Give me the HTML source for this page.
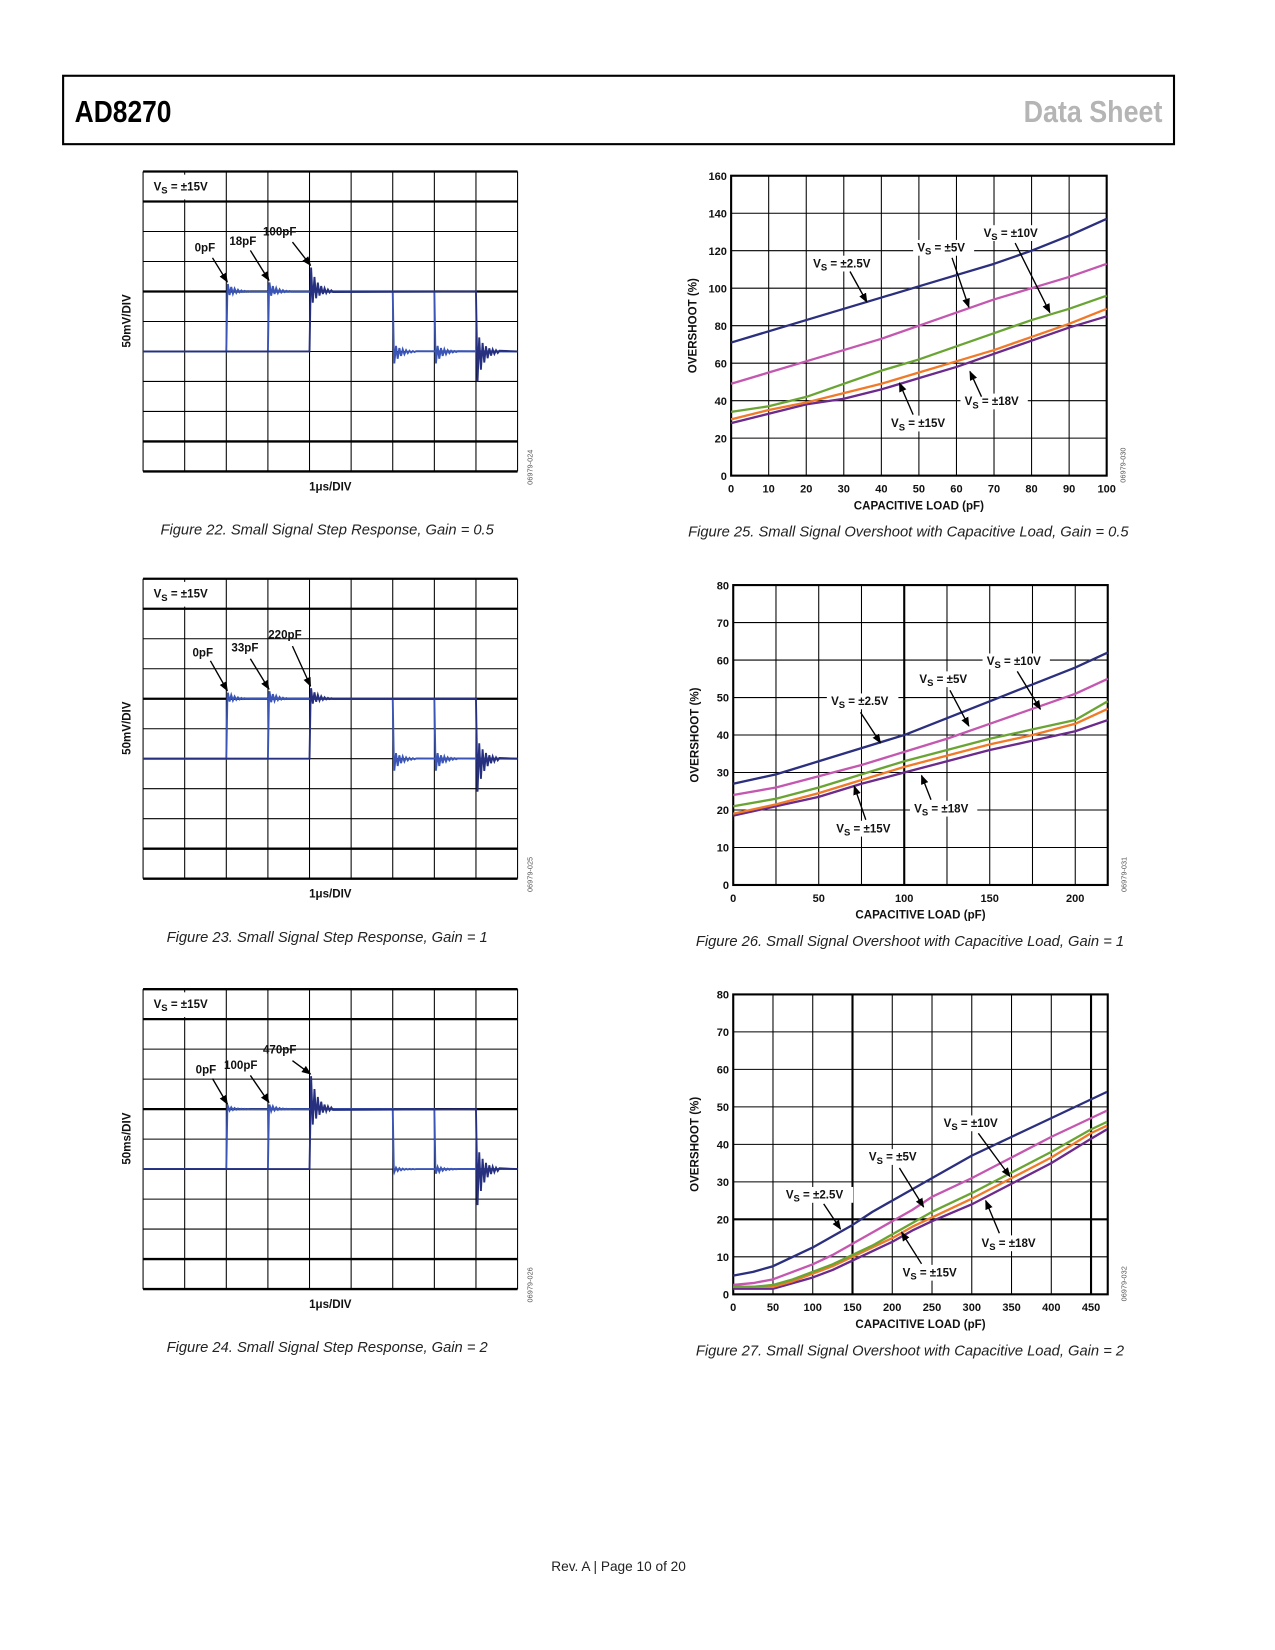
<!DOCTYPE html>
<html><head><meta charset="utf-8"><style>
html,body{margin:0;padding:0;background:#fff;}
svg{display:block;font-family:"Liberation Sans",sans-serif;}
.tk{font-size:10.5px;font-weight:bold;fill:#111;}
.lb{font-size:11px;font-weight:bold;fill:#111;}
.cap{font-size:14px;font-style:italic;fill:#222;font-family:"Liberation Sans",sans-serif;}
</style></head><body>
<svg id="pg" width="1275" height="1650" viewBox="0 0 1212 1568" preserveAspectRatio="none" xmlns="http://www.w3.org/2000/svg">
<defs><marker id="ah" viewBox="0 0 10 10" refX="9" refY="5" markerWidth="7" markerHeight="7" orient="auto"><path d="M0,1 L10,5 L0,9 z" fill="#000"/></marker></defs>
<rect x="60" y="72" width="1056" height="65" fill="none" stroke="#000" stroke-width="2"/>
<text x="71" y="116" font-size="29" font-weight="bold" textLength="92" lengthAdjust="spacingAndGlyphs">AD8270</text>
<text x="1105" y="116" font-size="29" font-weight="bold" fill="#b5b5b5" text-anchor="end" textLength="132" lengthAdjust="spacingAndGlyphs">Data Sheet</text>
<text x="588" y="1493" font-size="13" text-anchor="middle" fill="#222">Rev. A | Page 10 of 20</text>
<g id="root"></g>
</svg>
<script>
// ---- overshoot chart data ----
const f25X = [0,10,20,30,40,50,60,70,80,90,100];
const f25V25 = [71,77,83,89,95,101,107,113,120,128,137];
const f25V5 = [49,55,61,67,73,80,87,94,100,106,113];
const f25V10 = [34,37,42,49,56,62,69,76,83,89,96];
const f25V15 = [30,35,39,44,49,55,61,67,74,81,89];
const f25V18 = [28,33,38,41,46,52,58,65,72,79,85];
const f25YTicks = [0,20,40,60,80,100,120,140,160];
const f25XTicks = [0,10,20,30,40,50,60,70,80,90,100];

const f26X = [0,25,50,75,100,125,150,175,200,219];
const f26V25 = [27,29.5,33,36.5,40,44.5,49,53.5,58,62];
const f26V5 = [24,26,29,32,35.5,39,43,47,51,55];
const f26V10 = [21,23,26,29.5,33,36,39,41.5,44,49];
const f26V15 = [19,21.5,24.5,28,31.5,34.5,37.5,40,43,47];
const f26V18 = [18.5,21,23.5,27,30,33,36,38.5,41,44];
const f26YTicks = [0,10,20,30,40,50,60,70,80];
const f26XTicks = [0,50,100,150,200];

const f27X = [0,25,50,75,100,125,150,175,200,225,250,300,350,400,450,470];
const f27V25 = [5,6,7.5,10,12.5,15.5,18.5,22,25,28,31,37,42,47,52,54];
const f27V5 = [2.5,3,4,6,8,10.5,13.5,16.5,19.5,22.5,26,31,36.5,42,47,49];
const f27V10 = [2,2,2.5,4,6,8,10.5,13,16,19,22,27,32.5,38,44,46];
const f27V15 = [2,2,2,3.5,5.5,7.5,10,12.5,15,18,20.5,25.5,31,36.5,43,45];
const f27V18 = [1.5,1.5,1.5,3,4.5,6.5,9,11.5,14,17,19.5,24,29.5,35,41.5,44];
const f27YTicks = [0,10,20,30,40,50,60,70,80];
const f27XTicks = [0,50,100,150,200,250,300,350,400,450];

// ---- step response data (ringing amplitude per trace, in divisions) ----
const stepLabels22 = ['0pF','18pF','100pF'];
const riseRing22 = [0.25,0.3,0.8];
const fallRing22 = [0.4,0.4,1.0];
const stepLabels23 = ['0pF','33pF','220pF'];
const riseRing23 = [0.2,0.25,0.35];
const fallRing23 = [0.4,0.4,1.1];
const stepLabels24 = ['0pF','100pF','470pF'];
const riseRing24 = [0.1,0.15,1.1];
const fallRing24 = [0.1,0.15,1.2];

const NS='http://www.w3.org/2000/svg';
const root=document.getElementById('root');
function el(tag,attrs,parent,txt){const e=document.createElementNS(NS,tag);for(const k in attrs)e.setAttribute(k,attrs[k]);if(txt!==undefined)e.textContent=txt;(parent||root).appendChild(e);return e;}
function vsLabel(g,x,y,v){
  const t=el('text',{x:x,y:y,class:'lb'},g);
  
  
  t.appendChild(document.createTextNode('V'));
  el('tspan',{dy:3,'font-size':9},t,'S');
  el('tspan',{dy:-3},t,' = '+v);
  return t;
}
function arrow(g,x1,y1,x2,y2){
  const a=el('line',{x1:x1,y1:y1,x2:x2,y2:y2,stroke:'#000','stroke-width':1.3,'marker-end':'url(#ah)'},g);
  
  
}

function overshoot(cfg){
  const g=el('g',{});
  
  
  const {x0,x1,y0,y1,xmax,ymax}=cfg;
  const sx=v=>x0+(v/xmax)*(x1-x0), sy=v=>y1-(v/ymax)*(y1-y0);
  cfg.xGrid.forEach(v=>{const l=el('line',{x1:sx(v),x2:sx(v),y1:y0,y2:y1,stroke:'#000','stroke-width':cfg.thickX.includes(v)?2:1},g);
    });
  cfg.yTicks.forEach(v=>{const l=el('line',{x1:x0,x2:x1,y1:sy(v),y2:sy(v),stroke:'#000','stroke-width':cfg.thickY.includes(v)?2:1},g);
    
    const t=el('text',{x:x0-4,y:sy(v)+4,class:'tk','text-anchor':'end'},g,v);
    });
  cfg.xTicks.forEach(v=>{const t=el('text',{x:sx(v),y:y1+16,class:'tk','text-anchor':'middle'},g,v);
    });
  const fr=el('rect',{x:x0,y:y0,width:x1-x0,height:y1-y0,fill:'none',stroke:'#000','stroke-width':2},g);
  
  const xt=el('text',{x:(x0+x1)/2,y:y1+32,class:'lb','text-anchor':'middle'},g,'CAPACITIVE LOAD (pF)');
  
  const yt=el('text',{x:0,y:0,class:'lb','text-anchor':'middle',transform:`translate(${x0-33},${(y0+y1)/2}) rotate(-90)`},g,'OVERSHOOT (%)');
  
  const cols=['#6b2a8c','#f07a28','#6aa534','#c457b0','#2b2f7d'];
  const names=['series-18v','series-15v','series-10v','series-5v','series-2p5v'];
  cfg.series.forEach((s,i)=>{const p=el('polyline',{points:cfg.xs.map((x,j)=>sx(x)+','+sy(s[j])).join(' '),fill:'none',stroke:cols[i],'stroke-width':2.2,'stroke-linejoin':'round'},g);
    });
  const cid=el('text',{x:0,y:0,'font-size':7,fill:'#555','text-anchor':'middle',transform:`translate(${x1+18},${y1-10}) rotate(-90)`},g,cfg.code);
  
  const cp=el('text',{x:(x0+x1)/2-10,y:y1+58,class:'cap','text-anchor':'middle'},g,cfg.caption);
  
  cfg.labels.forEach(L=>{
    el('rect',{x:L[0]-4,y:L[1]-11,width:L[3]+8,height:15,fill:'#fff'},g);
    vsLabel(g,L[0],L[1],L[2]);
    arrow(g,L[4],L[5],L[6],L[7]);
  });
}
overshoot({name:'figure-25-chart',x0:695,x1:1052,y0:167,y1:452,xmax:100,ymax:160,xs:f25X,
 series:[f25V18,f25V15,f25V10,f25V5,f25V25],yTicks:f25YTicks,xTicks:f25XTicks,xGrid:f25XTicks,thickX:[],thickY:[],
 code:'06979-030',caption:'Figure 25. Small Signal Overshoot with Capacitive Load, Gain = 0.5',
 labels:[[773,254,'±2.5V',60,808,258,824,287],[872,239,'±5V',50,905,245,921,292],[935,225,'±10V',56,965,231,998,297],
         [917,385,'±18V',56,933,377,922,353],[847,406,'±15V',56,868,394,855,364]]});
overshoot({name:'figure-26-chart',x0:697,x1:1053,y0:556,y1:841,xmax:219,ymax:80,xs:f26X,
 series:[f26V18,f26V15,f26V10,f26V5,f26V25],yTicks:f26YTicks,xTicks:f26XTicks,xGrid:[0,25,50,75,100,125,150,175,200],thickX:[100],thickY:[],
 code:'06979-031',caption:'Figure 26. Small Signal Overshoot with Capacitive Load, Gain = 1',
 labels:[[790,670,'±2.5V',60,818,677,837,706],[874,649,'±5V',50,903,656,921,690],[938,632,'±10V',56,967,638,989,674],
         [869,772,'±18V',56,885,760,876,737],[795,791,'±15V',56,823,779,812,747]]});
overshoot({name:'figure-27-chart',x0:697,x1:1053,y0:945,y1:1230,xmax:471,ymax:80,xs:f27X,
 series:[f27V18,f27V15,f27V10,f27V5,f27V25],yTicks:f27YTicks,xTicks:f27XTicks,xGrid:[0,50,100,150,200,250,300,350,400,450],thickX:[150,450],thickY:[20],
 code:'06979-032',caption:'Figure 27. Small Signal Overshoot with Capacitive Load, Gain = 2',
 labels:[[747,1139,'±2.5V',60,783,1144,799,1168],[826,1103,'±5V',50,855,1110,878,1147],[897,1071,'±10V',56,930,1077,960,1118],
         [933,1185,'±18V',56,950,1172,937,1141],[858,1213,'±15V',56,876,1201,857,1171]]});

function scope(cfg){
  const g=el('g',{});
  
  
  const x0=136,x1=492,y0=cfg.y0,dy=28.5,dx=(x1-x0)/9,y1=y0+dy*10;
  for(let i=0;i<=9;i++){const l=el('line',{x1:x0+i*dx,x2:x0+i*dx,y1:y0,y2:y1,stroke:'#000','stroke-width':1},g);
    }
  for(let i=0;i<=10;i++){const l=el('line',{x1:x0,x2:x1,y1:y0+i*dy,y2:y0+i*dy,stroke:'#000','stroke-width':[0,1,4,9,10].includes(i)?2.2:1},g);
    }
  const hi=y0+4*dy, lo=y0+6*dy;
  const cols=['#3a55b5','#3a55b5','#27307f'];
  for(let k=0;k<3;k++){
    const r=x0+(2+k)*dx, f=x0+(6+k)*dx;
    let pts=[[x0,lo],[r,lo],[r+1,hi]];
    const ringA=cfg.rise[k]*dy, fallA=cfg.fall[k]*dy;
    for(let j=0;j<14;j++){const a=ringA*Math.pow(0.78,j);pts.push([r+1.5+j*1.6,hi+(j%2?a*0.6:-a)]);}
    pts.push([f,hi],[f+1,lo]);
    for(let j=0;j<14;j++){const a=fallA*Math.pow(0.78,j);pts.push([f+1.5+j*1.6,lo+(j%2?-a*0.6:a)]);}
    pts.push([x1,lo]);
    const p=el('polyline',{points:pts.map(q=>q.join(',')).join(' '),fill:'none',stroke:cols[k],'stroke-width':1.8},g);
    
  }
  el('rect',{x:x0+3,y:y0+3,width:72,height:dy-5,fill:'#fff'},g);
  vsLabel(g,x0+10,y0+18,'±15V');
  cfg.lab.forEach((L,k)=>{
    const t=el('text',{x:L[0],y:L[1],class:'lb'},g,cfg.labels[k]);
    
    arrow(g,L[2],L[3],x0+(2+k)*dx+1,hi-(cfg.rise[k]*dy)-2);
  });
  const yt=el('text',{x:0,y:0,class:'lb','text-anchor':'middle',transform:`translate(124,${y0+142}) rotate(-90)`},g,cfg.ylab);
  
  const xt=el('text',{x:314,y:y1+18,class:'lb','text-anchor':'middle'},g,'1μs/DIV');
  
  const cid=el('text',{x:0,y:0,'font-size':7,fill:'#555','text-anchor':'middle',transform:`translate(506,${y1-4}) rotate(-90)`},g,cfg.code);
  
  const cp=el('text',{x:311,y:y1+60,class:'cap','text-anchor':'middle'},g,cfg.caption);
  
}
scope({name:'figure-22-chart',y0:163,labels:stepLabels22,rise:riseRing22,fall:fallRing22,ylab:'50mV/DIV',code:'06979-024',
 caption:'Figure 22. Small Signal Step Response, Gain = 0.5',lab:[[185,239,202,245],[218,233,238,238],[250,224,278,230]]});
scope({name:'figure-23-chart',y0:550,labels:stepLabels23,rise:riseRing23,fall:fallRing23,ylab:'50mV/DIV',code:'06979-025',
 caption:'Figure 23. Small Signal Step Response, Gain = 1',lab:[[183,624,200,628],[220,619,238,626],[255,607,278,614]]});
scope({name:'figure-24-chart',y0:940,labels:stepLabels24,rise:riseRing24,fall:fallRing24,ylab:'50ms/DIV',code:'06979-026',
 caption:'Figure 24. Small Signal Step Response, Gain = 2',lab:[[186,1020,202,1025],[213,1016,238,1022],[250,1001,278,1008]]});
</script>
</body></html>
